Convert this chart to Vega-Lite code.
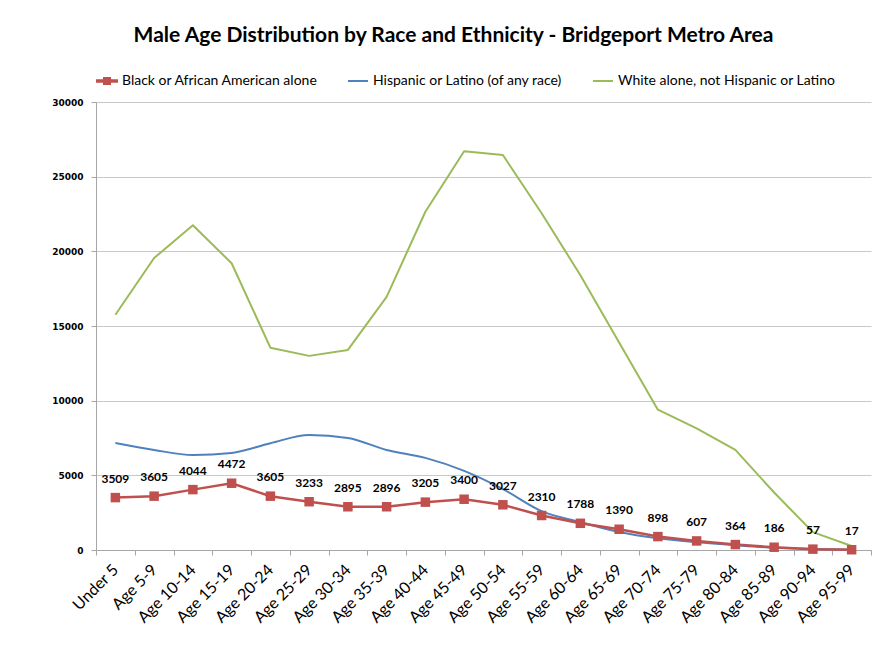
{
  "$schema": "https://vega.github.io/schema/vega-lite/v6.json",
  "width": 775,
  "height": 448,
  "autosize": {"type": "none"},
  "padding": {"left": 96, "top": 102, "right": 20, "bottom": 96},
  "background": "white",
  "title": {
    "text": "Male Age Distribution by Race and Ethnicity - Bridgeport Metro Area",
    "font": "Lato",
    "fontSize": 21,
    "fontWeight": "bold",
    "color": "#000000",
    "anchor": "middle",
    "dx": -30,
    "offset": 24
  },
  "config": {
    "view": {"stroke": null},
    "legend": {
      "orient": "top",
      "direction": "horizontal",
      "title": null,
      "labelFont": "Lato",
      "labelFontSize": 14,
      "labelColor": "#000000",
      "labelLimit": 0,
      "symbolType": "stroke",
      "symbolSize": 400,
      "symbolStrokeWidth": 2,
      "columnPadding": 26,
      "offset": 14
    }
  },
  "data": {
    "values": [
      {"age": "Under 5", "series": "Black or African American alone", "value": 3509},
      {"age": "Age 5-9", "series": "Black or African American alone", "value": 3605},
      {"age": "Age 10-14", "series": "Black or African American alone", "value": 4044},
      {"age": "Age 15-19", "series": "Black or African American alone", "value": 4472},
      {"age": "Age 20-24", "series": "Black or African American alone", "value": 3605},
      {"age": "Age 25-29", "series": "Black or African American alone", "value": 3233},
      {"age": "Age 30-34", "series": "Black or African American alone", "value": 2895},
      {"age": "Age 35-39", "series": "Black or African American alone", "value": 2896},
      {"age": "Age 40-44", "series": "Black or African American alone", "value": 3205},
      {"age": "Age 45-49", "series": "Black or African American alone", "value": 3400},
      {"age": "Age 50-54", "series": "Black or African American alone", "value": 3027},
      {"age": "Age 55-59", "series": "Black or African American alone", "value": 2310},
      {"age": "Age 60-64", "series": "Black or African American alone", "value": 1788},
      {"age": "Age 65-69", "series": "Black or African American alone", "value": 1390},
      {"age": "Age 70-74", "series": "Black or African American alone", "value": 898},
      {"age": "Age 75-79", "series": "Black or African American alone", "value": 607},
      {"age": "Age 80-84", "series": "Black or African American alone", "value": 364},
      {"age": "Age 85-89", "series": "Black or African American alone", "value": 186},
      {"age": "Age 90-94", "series": "Black or African American alone", "value": 57},
      {"age": "Age 95-99", "series": "Black or African American alone", "value": 17},
      {"age": "Under 5", "series": "Hispanic or Latino (of any race)", "value": 7170},
      {"age": "Age 5-9", "series": "Hispanic or Latino (of any race)", "value": 6700},
      {"age": "Age 10-14", "series": "Hispanic or Latino (of any race)", "value": 6360},
      {"age": "Age 15-19", "series": "Hispanic or Latino (of any race)", "value": 6500},
      {"age": "Age 20-24", "series": "Hispanic or Latino (of any race)", "value": 7150},
      {"age": "Age 25-29", "series": "Hispanic or Latino (of any race)", "value": 7700},
      {"age": "Age 30-34", "series": "Hispanic or Latino (of any race)", "value": 7500},
      {"age": "Age 35-39", "series": "Hispanic or Latino (of any race)", "value": 6700},
      {"age": "Age 40-44", "series": "Hispanic or Latino (of any race)", "value": 6170},
      {"age": "Age 45-49", "series": "Hispanic or Latino (of any race)", "value": 5300},
      {"age": "Age 50-54", "series": "Hispanic or Latino (of any race)", "value": 4080},
      {"age": "Age 55-59", "series": "Hispanic or Latino (of any race)", "value": 2600},
      {"age": "Age 60-64", "series": "Hispanic or Latino (of any race)", "value": 1870},
      {"age": "Age 65-69", "series": "Hispanic or Latino (of any race)", "value": 1200},
      {"age": "Age 70-74", "series": "Hispanic or Latino (of any race)", "value": 780},
      {"age": "Age 75-79", "series": "Hispanic or Latino (of any race)", "value": 520},
      {"age": "Age 80-84", "series": "Hispanic or Latino (of any race)", "value": 320},
      {"age": "Age 85-89", "series": "Hispanic or Latino (of any race)", "value": 150},
      {"age": "Age 90-94", "series": "Hispanic or Latino (of any race)", "value": 70},
      {"age": "Age 95-99", "series": "Hispanic or Latino (of any race)", "value": 25},
      {"age": "Under 5", "series": "White alone, not Hispanic or Latino", "value": 15750},
      {"age": "Age 5-9", "series": "White alone, not Hispanic or Latino", "value": 19550},
      {"age": "Age 10-14", "series": "White alone, not Hispanic or Latino", "value": 21750},
      {"age": "Age 15-19", "series": "White alone, not Hispanic or Latino", "value": 19200},
      {"age": "Age 20-24", "series": "White alone, not Hispanic or Latino", "value": 13550},
      {"age": "Age 25-29", "series": "White alone, not Hispanic or Latino", "value": 13000},
      {"age": "Age 30-34", "series": "White alone, not Hispanic or Latino", "value": 13400},
      {"age": "Age 35-39", "series": "White alone, not Hispanic or Latino", "value": 16950},
      {"age": "Age 40-44", "series": "White alone, not Hispanic or Latino", "value": 22650},
      {"age": "Age 45-49", "series": "White alone, not Hispanic or Latino", "value": 26700},
      {"age": "Age 50-54", "series": "White alone, not Hispanic or Latino", "value": 26450},
      {"age": "Age 55-59", "series": "White alone, not Hispanic or Latino", "value": 22550},
      {"age": "Age 60-64", "series": "White alone, not Hispanic or Latino", "value": 18400},
      {"age": "Age 65-69", "series": "White alone, not Hispanic or Latino", "value": 13900},
      {"age": "Age 70-74", "series": "White alone, not Hispanic or Latino", "value": 9400},
      {"age": "Age 75-79", "series": "White alone, not Hispanic or Latino", "value": 8150},
      {"age": "Age 80-84", "series": "White alone, not Hispanic or Latino", "value": 6700},
      {"age": "Age 85-89", "series": "White alone, not Hispanic or Latino", "value": 3850},
      {"age": "Age 90-94", "series": "White alone, not Hispanic or Latino", "value": 1200},
      {"age": "Age 95-99", "series": "White alone, not Hispanic or Latino", "value": 270}
    ]
  },
  "encoding": {
    "x": {
      "field": "age",
      "type": "ordinal",
      "sort": null,
      "title": null,
      "scale": {"paddingInner": 0, "paddingOuter": 0},
      "axis": {
        "labelAngle": -45,
        "labelAlign": "right",
        "labelBaseline": "middle",
        "labelFont": "Lato",
        "labelFontSize": 16,
        "labelColor": "#000000",
        "labelPadding": 12,
        "tickBand": "extent",
        "domainColor": "#a6a6a6",
        "tickColor": "#a6a6a6",
        "tickSize": 5,
        "grid": false
      }
    },
    "y": {
      "field": "value",
      "type": "quantitative",
      "title": null,
      "scale": {"domain": [0, 30000], "nice": false},
      "axis": {
        "values": [0, 5000, 10000, 15000, 20000, 25000, 30000],
        "format": "d",
        "labelFont": "DejaVu Sans",
        "labelFontSize": 9,
        "labelFontWeight": "bold",
        "labelColor": "#000000",
        "labelPadding": 8,
        "gridColor": "#c8c8c8",
        "gridWidth": 1,
        "domainColor": "#a6a6a6",
        "tickColor": "#a6a6a6",
        "tickSize": 5
      }
    },
    "color": {
      "field": "series",
      "type": "nominal",
      "scale": {
        "domain": ["Black or African American alone", "Hispanic or Latino (of any race)", "White alone, not Hispanic or Latino"],
        "range": ["#C0504D", "#4F81BD", "#9BBB59"]
      },
      "legend": {
        "encode": {
          "symbols": {
            "update": {
              "shape": {"signal": "datum.value === 'Black or African American alone' ? 'M-1,-0.08H1V0.08H-1Z M-0.3,-0.3H0.3V0.3H-0.3Z' : 'stroke'"},
              "fill": {"signal": "datum.value === 'Black or African American alone' ? '#C0504D' : 'transparent'"}
            }
          }
        }
      }
    }
  },
  "layer": [
    {
      "transform": [{"filter": "datum.series === 'Hispanic or Latino (of any race)'"}],
      "mark": {"type": "line", "interpolate": "monotone", "strokeWidth": 2}
    },
    {
      "transform": [{"filter": "datum.series === 'White alone, not Hispanic or Latino'"}],
      "mark": {"type": "line", "interpolate": "linear", "strokeWidth": 2, "strokeJoin": "round"}
    },
    {
      "transform": [{"filter": "datum.series === 'Black or African American alone'"}],
      "mark": {"type": "line", "interpolate": "linear", "strokeWidth": 2.5}
    },
    {
      "transform": [{"filter": "datum.series === 'Black or African American alone'"}],
      "mark": {"type": "square", "size": 90, "opacity": 1, "filled": true}
    },
    {
      "transform": [{"filter": "datum.series === 'Black or African American alone'"}],
      "mark": {"type": "text", "dy": -19, "font": "Lato", "fontSize": 12, "fontWeight": "bold", "color": "#000000"},
      "encoding": {
        "text": {"field": "value", "type": "quantitative", "format": "d"},
        "color": {"value": "#000000"}
      }
    }
  ]
}
